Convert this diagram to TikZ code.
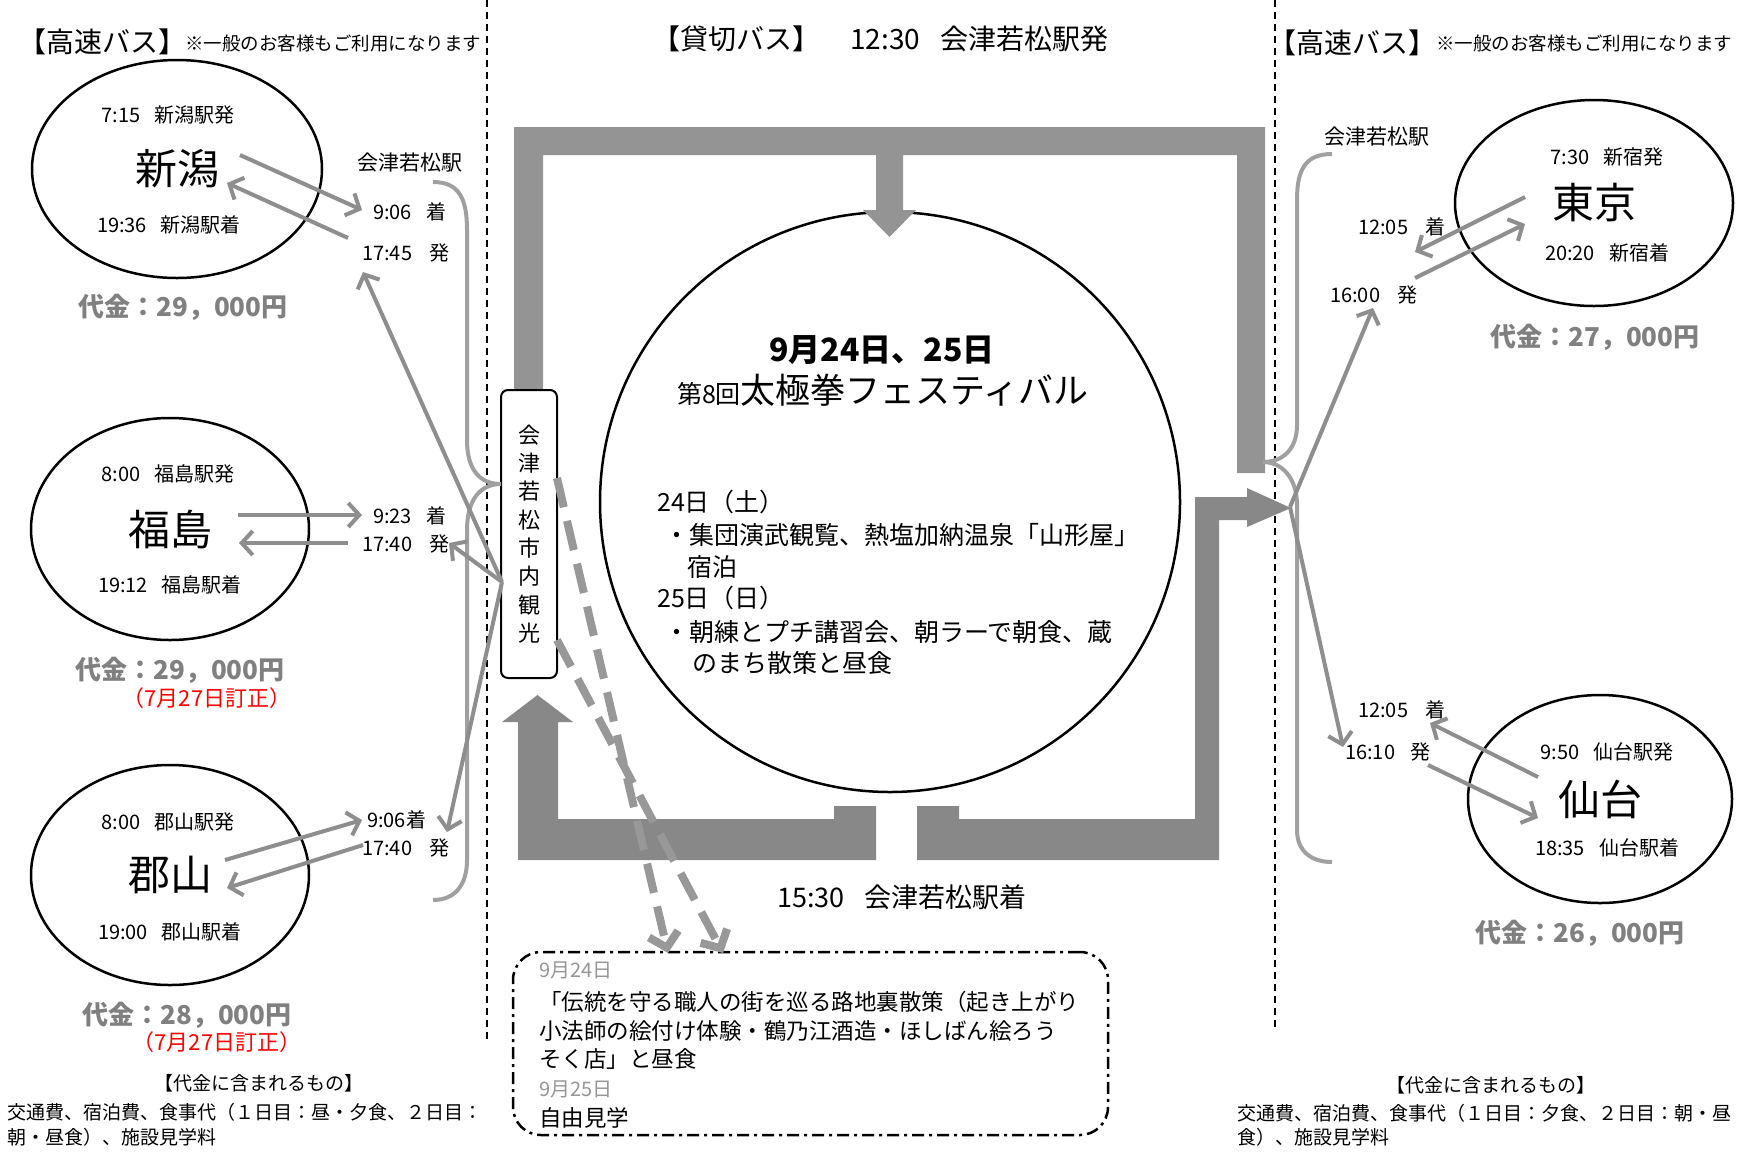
\documentclass[tikz,border=0pt]{standalone}
\usepackage{fontspec}
\setmainfont{Noto Sans CJK JP}
\usetikzlibrary{arrows.meta,shapes.geometric}

\definecolor{framegray}{RGB}{148,148,148}
\definecolor{basegray}{RGB}{136,136,136}
\definecolor{arrgray}{RGB}{142,142,142}
\definecolor{dashgray}{RGB}{152,152,152}
\definecolor{bracegray}{RGB}{160,160,160}
\definecolor{pricegray}{RGB}{128,128,128}
\definecolor{dategray}{RGB}{150,150,150}
\newcommand{\fsz}[1]{\fontsize{#1}{#1}\selectfont}

\begin{document}
\begin{tikzpicture}[x=1pt, y=-1pt,
  city/.style={draw, ellipse, line width=2.5pt, inner sep=0pt, font=\fsz{42}},
  timetxt/.style={font=\fsz{20}, inner sep=0pt},
  stationtxt/.style={font=\fsz{20}, inner sep=0pt, anchor=west},
  price/.style={font=\bfseries\fsz{26}, text=pricegray, inner sep=0pt},
  fixtxt/.style={font=\fsz{22}, text=red, inner sep=0pt},
  plantxt/.style={font=\fsz{25}, inner sep=0pt, anchor=west},
  memotxt/.style={font=\fsz{22.5}, inner sep=0pt, anchor=west},
  thinarr/.style={draw=arrgray, line width=4pt, -{Straight Barb[length=11pt,width=24pt]}},
  dasharr/.style={draw=dashgray, line width=8pt, dash pattern=on 30pt off 14pt, -{Straight Barb[length=14pt,width=30pt]}},
  bracket/.style={draw=bracegray, line width=4pt},
  sepline/.style={line width=1.6pt, dash pattern=on 7pt off 5pt}]
\fill[white] (0,0) rectangle (1747,1152);
\useasboundingbox (0,0) rectangle (1747,1152);

% separators
\coordinate (sepLt) at (487,0);
\coordinate (sepLb) at (487,1040);
\coordinate (sepRt) at (1275,0);
\coordinate (sepRb) at (1275,1027);
\draw[sepline] (sepLt) -- (sepLb);
\draw[sepline] (sepRt) -- (sepRb);

% headers
\node[font=\fsz{28}, inner sep=0pt, anchor=west] (busL) at (18,42) {【高速バス】};
\node[font=\fsz{18.5}, inner sep=0pt, anchor=west] (noteL) at (185,43) {※一般のお客様もご利用になります};
\node[font=\fsz{28}, inner sep=0pt, anchor=west] (busR) at (1268,43) {【高速バス】};
\node[font=\fsz{18.5}, inner sep=0pt, anchor=west] (noteR) at (1436,43) {※一般のお客様もご利用になります};
\node[font=\fsz{28}, inner sep=0pt, anchor=west] (charter) at (652,39) {【貸切バス】\hspace{30pt}12:30\hspace{20pt}会津若松駅発};

% festival circle
\node[draw, circle, line width=2.5pt, minimum size=580pt, inner sep=0pt] (fest) at (890,502) {};

% bus route frames
\fill[framegray] (514,390) -- (514,127) -- (1265,127) -- (1265,473) -- (1237,473) -- (1237,155) -- (903,155) -- (903,210) -- (916,210) -- (889.5,237) -- (863,210) -- (876,210) -- (876,155) -- (543,155) -- (543,390) -- cycle;
\fill[basegray] (502,722) -- (537.5,695) -- (573,722) -- (558,722) -- (558,819) -- (834,819) -- (834,806) -- (876,806) -- (876,860) -- (518,860) -- (518,722) -- cycle;
\fill[basegray] (917,806) -- (959,806) -- (959,819) -- (1195,819) -- (1195,497) -- (1247,497) -- (1247,488) -- (1291,508) -- (1247,527) -- (1247,520) -- (1219,520) -- (1219,860) -- (917,860) -- cycle;

% sightseeing box
\node[draw, fill=white, rounded corners=7pt, line width=2pt, minimum width=56pt, minimum height=288pt, align=center, font=\fontsize{22}{28.3}\selectfont] (tour) at (529,534) {会\\津\\若\\松\\市\\内\\観\\光};

% festival text
\node[font=\bfseries\fsz{32}, inner sep=0pt] (date) at (882,350) {9月24日、25日};
\node[inner sep=0pt] (title) at (883,390) {{\fsz{25}第8回}{\fsz{35}太極拳フェスティバル}};
\node[plantxt] (sat) at (657,502) {24日（土）};
\node[plantxt] (satA) at (664,535) {・集団演武観覧、熱塩加納温泉「山形屋」};
\node[plantxt] (satB) at (687,567) {宿泊};
\node[plantxt] (sun) at (657,598) {25日（日）};
\node[plantxt] (sunA) at (664,632) {・朝練とプチ講習会、朝ラーで朝食、蔵};
\node[plantxt] (sunB) at (692,663) {のまち散策と昼食};

\node[font=\fsz{27}, inner sep=0pt] (back) at (902,897) {15:30\hspace{20pt}会津若松駅着};

% memo box
\node[draw, line width=2.5pt, rounded corners=28pt, dash pattern=on 12pt off 5pt on 3pt off 5pt, minimum width=595pt, minimum height=183pt] (memo) at (810.5,1043.5) {};
\node[memotxt, font=\fsz{20}, text=dategray] (d24) at (539,970) {9月24日};
\node[memotxt] (m1) at (539,1002) {「伝統を守る職人の街を巡る路地裏散策（起き上がり};
\node[memotxt] (m2) at (539,1031) {小法師の絵付け体験・鶴乃江酒造・ほしばん絵ろう};
\node[memotxt] (m3) at (539,1059) {そく店」と昼食};
\node[memotxt, font=\fsz{20}, text=dategray] (d25) at (539,1089) {9月25日};
\node[memotxt] (m4) at (539,1118) {自由見学};

% cities
\node[city, minimum width=290pt, minimum height=218pt] (nig) at (177,169) {新潟};
\node[timetxt] (nigDep) at (168,115) {7:15\hspace{14pt}新潟駅発};
\node[timetxt] (nigArr) at (169,225) {19:36\hspace{14pt}新潟駅着};
\node[price] (nigP) at (183,307) {代金：29，000円};

\node[city, minimum width=278pt, minimum height=222pt] (fks) at (170,529) {福島};
\node[timetxt] (fksDep) at (168,474) {8:00\hspace{14pt}福島駅発};
\node[timetxt] (fksArr) at (170,585) {19:12\hspace{14pt}福島駅着};
\node[price] (fksP) at (180,670) {代金：29，000円};
\node[fixtxt] (fksFix) at (207,698) {（7月27日訂正）};

\node[city, minimum width=278pt, minimum height=220pt] (kry) at (170,875) {郡山};
\node[timetxt] (kryDep) at (168,822) {8:00\hspace{14pt}郡山駅発};
\node[timetxt] (kryArr) at (170,932) {19:00\hspace{14pt}郡山駅着};
\node[price] (kryP) at (187,1015) {代金：28，000円};
\node[fixtxt] (kryFix) at (217,1042) {（7月27日訂正）};

\node[city, minimum width=278pt, minimum height=206pt] (tky) at (1594,203) {東京};
\node[timetxt] (tkyDep) at (1607,157) {7:30\hspace{14pt}新宿発};
\node[timetxt] (tkyArr) at (1607,253) {20:20\hspace{14pt}新宿着};
\node[price] (tkyP) at (1595,337) {代金：27，000円};

\node[city, minimum width=264pt, minimum height=208pt] (sdi) at (1600,799) {仙台};
\node[timetxt] (sdiDep) at (1607,752) {9:50\hspace{14pt}仙台駅発};
\node[timetxt] (sdiArr) at (1607,848) {18:35\hspace{14pt}仙台駅着};
\node[price] (sdiP) at (1580,933) {代金：26，000円};

% station times
\node[stationtxt, font=\fsz{21}] (aizuL) at (357,163) {会津若松駅};
\node[stationtxt] (nigIn) at (373,212) {9:06\hspace{14pt}着};
\node[stationtxt] (nigOut) at (362,253) {17:45\hspace{17pt}発};
\node[stationtxt] (fksIn) at (373,516) {9:23\hspace{14pt}着};
\node[stationtxt] (fksOut) at (362,544) {17:40\hspace{17pt}発};
\node[stationtxt] (kryIn) at (367,820) {9:06着};
\node[stationtxt] (kryOut) at (362,848) {17:40\hspace{17pt}発};
\node[stationtxt, font=\fsz{21}] (aizuR) at (1324,137) {会津若松駅};
\node[stationtxt] (tkyIn) at (1358,227) {12:05\hspace{17pt}着};
\node[stationtxt] (tkyOut) at (1330,295) {16:00\hspace{17pt}発};
\node[stationtxt] (sdiIn) at (1358,710) {12:05\hspace{17pt}着};
\node[stationtxt] (sdiOut) at (1345,752) {16:10\hspace{15pt}発};

% brackets
\draw[bracket] (433,182) .. controls (460,182) and (467,200) .. (467,230) -- (467,440) .. controls (467,470) and (480,484) .. (501,484) .. controls (480,484) and (467,500) .. (467,530) -- (467,860) .. controls (467,885) and (455,900) .. (433,900);
\draw[bracket] (1332,154) .. controls (1305,154) and (1297,170) .. (1297,200) -- (1297,425) .. controls (1297,450) and (1282,462) .. (1263,462) .. controls (1282,462) and (1297,478) .. (1297,505) -- (1297,830) .. controls (1297,850) and (1310,862) .. (1332,862);

% dashed arrows to memo
\coordinate (tourA) at (557,478);
\coordinate (tourB) at (557,640);
\coordinate (memoA) at (668,953);
\coordinate (memoB) at (723,953);
\draw[dasharr] (tourA) -- (memoA);
\draw[dasharr] (tourB) -- (memoB);

% thin arrows, left
\coordinate (nigO) at (240,155);
\coordinate (nigI) at (362,210);
\coordinate (nigD) at (348,238);
\coordinate (nigR) at (227,183);
\coordinate (fksO) at (238,515);
\coordinate (fksI) at (362,515);
\coordinate (fksD) at (348,543);
\coordinate (fksR) at (239,543);
\coordinate (kryO) at (225,860);
\coordinate (kryI) at (362,820);
\coordinate (kryD) at (363,845);
\coordinate (kryR) at (227,888);
\coordinate (tourL) at (502,582);
\coordinate (nigG) at (363,272);
\coordinate (fksG) at (449,543);
\coordinate (kryG) at (447,832);
\draw[thinarr] (nigO) -- (nigI);
\draw[thinarr] (nigD) -- (nigR);
\draw[thinarr] (fksO) -- (fksI);
\draw[thinarr] (fksD) -- (fksR);
\draw[thinarr] (kryO) -- (kryI);
\draw[thinarr] (kryD) -- (kryR);
\draw[thinarr] (tourL) -- (nigG);
\draw[thinarr] (tourL) -- (fksG);
\draw[thinarr] (tourL) -- (kryG);

% thin arrows, right
\coordinate (tkyO) at (1525,197);
\coordinate (tkyI) at (1415,252);
\coordinate (tkyD) at (1415,278);
\coordinate (tkyR) at (1525,224);
\coordinate (sdiO) at (1538,777);
\coordinate (sdiI) at (1430,723);
\coordinate (sdiD) at (1428,765);
\coordinate (sdiR) at (1538,818);
\coordinate (busTip) at (1290,507);
\coordinate (tkyG) at (1373,308);
\coordinate (sdiG) at (1343,747);
\draw[thinarr] (tkyO) -- (tkyI);
\draw[thinarr] (tkyD) -- (tkyR);
\draw[thinarr] (sdiO) -- (sdiI);
\draw[thinarr] (sdiD) -- (sdiR);
\draw[thinarr] (busTip) -- (tkyG);
\draw[thinarr] (busTip) -- (sdiG);

% costs
\node[font=\fsz{19}, inner sep=0pt] (inclL) at (259,1083) {【代金に含まれるもの】};
\node[font=\fsz{19}, inner sep=0pt, anchor=west] (costL1) at (7,1112) {交通費、宿泊費、食事代（１日目：昼・夕食、２日目：};
\node[font=\fsz{19}, inner sep=0pt, anchor=west] (costL2) at (7,1137) {朝・昼食）、施設見学料};
\node[font=\fsz{19}, inner sep=0pt] (inclR) at (1491,1085) {【代金に含まれるもの】};
\node[font=\fsz{19}, inner sep=0pt, anchor=west] (costR1) at (1237,1113) {交通費、宿泊費、食事代（１日目：夕食、２日目：朝・昼};
\node[font=\fsz{19}, inner sep=0pt, anchor=west] (costR2) at (1237,1137) {食）、施設見学料};
\end{tikzpicture}
\end{document}
